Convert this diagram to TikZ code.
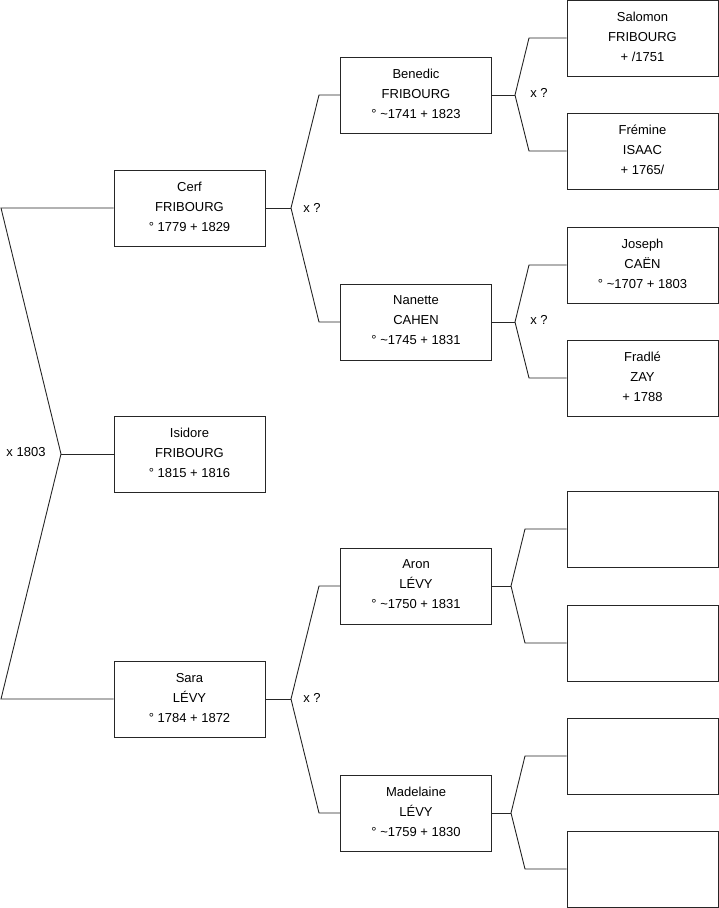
\documentclass[tikz,border=0pt]{standalone}
\usepackage{fontspec}
\setmainfont{Liberation Sans}
\begin{document}
\begin{tikzpicture}[x=1pt,y=-1pt,
  person/.style={draw=black!85,line width=0.9pt,minimum width=151pt,minimum height=76pt,inner sep=0pt,align=center,font=\fontsize{13}{20}\selectfont,text depth=3pt,fill=white},
  link/.style={draw=black!85,line width=0.9pt},
  lab/.style={font=\fontsize{13}{15}\selectfont,inner sep=0pt}]
\useasboundingbox (0,0) rectangle (719,908);
% generation 1
\node[person] (cerf) at (189.5,208) {Cerf\\FRIBOURG\\° 1779 + 1829};
\node[person] (isidore) at (189.5,454) {Isidore\\FRIBOURG\\° 1815 + 1816};
\node[person] (sara) at (189.5,699) {Sara\\LÉVY\\° 1784 + 1872};
% generation 2
\node[person] (benedic) at (416,95) {Benedic\\FRIBOURG\\° \textasciitilde1741 + 1823};
\node[person] (nanette) at (416,322) {Nanette\\CAHEN\\° \textasciitilde1745 + 1831};
\node[person] (aron) at (416,586) {Aron\\LÉVY\\° \textasciitilde1750 + 1831};
\node[person] (madelaine) at (416,813) {Madelaine\\LÉVY\\° \textasciitilde1759 + 1830};
% generation 3
\node[person] (salomon) at (642.5,38) {Salomon\\FRIBOURG\\+ /1751};
\node[person] (fremine) at (642.5,151) {Frémine\\ISAAC\\+ 1765/};
\node[person] (joseph) at (642.5,265) {Joseph\\CAËN\\° \textasciitilde1707 + 1803};
\node[person] (fradle) at (642.5,378) {Fradlé\\ZAY\\+ 1788};
\node[person] (e1) at (642.5,529) {};
\node[person] (e2) at (642.5,643) {};
\node[person] (e3) at (642.5,756) {};
\node[person] (e4) at (642.5,869) {};
% junctions
\coordinate (a1) at (1,208); \coordinate (a2) at (61,454); \coordinate (a3) at (1,699);
\coordinate (b0) at (291,208); \coordinate (b1) at (319,95); \coordinate (b2) at (319,322);
\coordinate (c0) at (291,699); \coordinate (c1) at (319,586); \coordinate (c2) at (319,813);
\coordinate (d0) at (515,95); \coordinate (d1) at (529,38); \coordinate (d2) at (529,151);
\coordinate (g0) at (515,322); \coordinate (g1) at (529,265); \coordinate (g2) at (529,378);
\coordinate (f0) at (511,586); \coordinate (f1) at (525,529); \coordinate (f2) at (525,643);
\coordinate (h0) at (511,813); \coordinate (h1) at (525,756); \coordinate (h2) at (525,869);
% connectors
\draw[link] (cerf.west) -- (a1) -- (a2) -- (a3) -- (sara.west);
\draw[link] (a2) -- (isidore.west);
\draw[link] (cerf.east) -- (b0);
\draw[link] (benedic.west) -- (b1) -- (b0) -- (b2) -- (nanette.west);
\draw[link] (sara.east) -- (c0);
\draw[link] (aron.west) -- (c1) -- (c0) -- (c2) -- (madelaine.west);
\draw[link] (benedic.east) -- (d0);
\draw[link] (salomon.west) -- (d1) -- (d0) -- (d2) -- (fremine.west);
\draw[link] (nanette.east) -- (g0);
\draw[link] (joseph.west) -- (g1) -- (g0) -- (g2) -- (fradle.west);
\draw[link] (aron.east) -- (f0);
\draw[link] (e1.west) -- (f1) -- (f0) -- (f2) -- (e2.west);
\draw[link] (madelaine.east) -- (h0);
\draw[link] (e3.west) -- (h1) -- (h0) -- (h2) -- (e4.west);
% labels
\node[lab] (l1) at (26,452) {x 1803};
\node[lab] (l2) at (312,208) {x ?};
\node[lab] (l3) at (312,698) {x ?};
\node[lab] (l4) at (539,93) {x ?};
\node[lab] (l5) at (539,320) {x ?};
\end{tikzpicture}
\end{document}
